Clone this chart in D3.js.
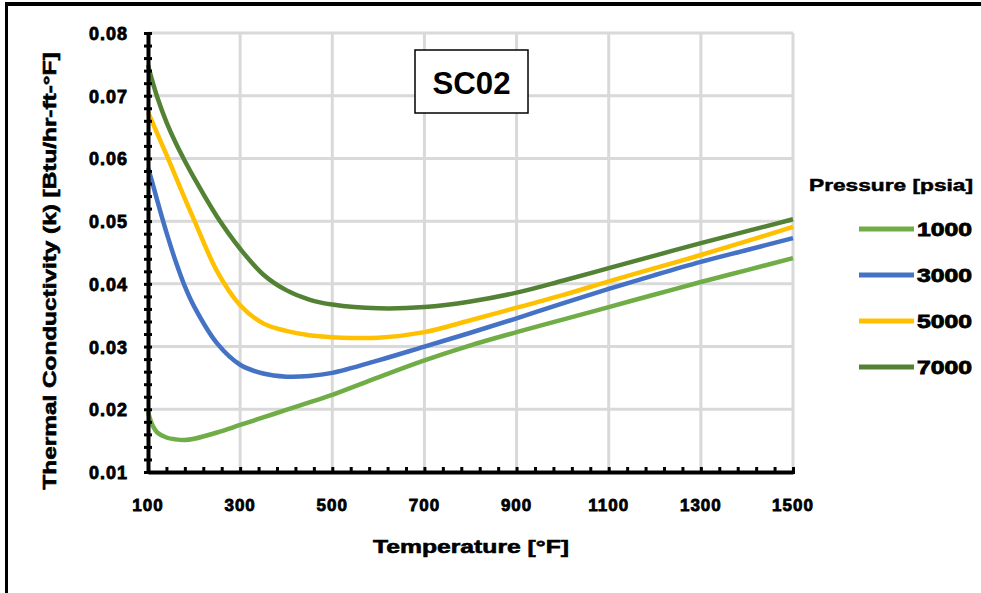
<!DOCTYPE html>
<html>
<head>
<meta charset="utf-8">
<script src="https://cdn.jsdelivr.net/npm/d3@7"></script>
<style>
    body { margin: 0; background: #fff; }
    text { font-family: "Liberation Sans", Arial, sans-serif; font-weight: bold; fill: #000; }
</style>
</head>
<body>
<div id="chart"></div>
<script>
// temperatures [°F] shared by all series
const temps = [100, 110, 120, 140, 160, 180, 200, 250, 300, 350, 400, 450, 500, 600, 700, 800, 900, 1000, 1100, 1200, 1300, 1400, 1500];

// thermal conductivity per pressure
const k1000 = [0.0196, 0.0174, 0.0163, 0.0155, 0.0152, 0.0151, 0.0153, 0.0163, 0.0175, 0.0187, 0.0199, 0.0211, 0.0223, 0.0251, 0.0278, 0.0302, 0.0323, 0.0343, 0.0363, 0.0383, 0.0403, 0.0422, 0.0441];
const k3000 = [0.0585, 0.0560, 0.0533, 0.0482, 0.0436, 0.0396, 0.0364, 0.0305, 0.0271, 0.0257, 0.0252, 0.0253, 0.0258, 0.0278, 0.0300, 0.0322, 0.0345, 0.0369, 0.0392, 0.0414, 0.0435, 0.0454, 0.0473];
const k5000 = [0.0674, 0.0657, 0.0640, 0.0606, 0.0571, 0.0536, 0.0502, 0.0420, 0.0366, 0.0337, 0.0325, 0.0318, 0.0315, 0.0314, 0.0323, 0.0342, 0.0362, 0.0382, 0.0404, 0.0425, 0.0446, 0.0468, 0.0491];
const k7000 = [0.0749, 0.0722, 0.0698, 0.0658, 0.0625, 0.0596, 0.0569, 0.0507, 0.0456, 0.0415, 0.0390, 0.0375, 0.0367, 0.0361, 0.0363, 0.0372, 0.0386, 0.0405, 0.0425, 0.0445, 0.0465, 0.0484, 0.0503];

const pressures = ["1000", "3000", "5000", "7000"];
const seriesValues = [k1000, k3000, k5000, k7000];
const colors = ["#70AD47", "#4472C4", "#FFC000", "#548235"];

const xTicks = [100, 300, 500, 700, 900, 1100, 1300, 1500];
const yTicks = [0.01, 0.02, 0.03, 0.04, 0.05, 0.06, 0.07, 0.08];

const width = 981, height = 593;
const plot = {left: 148, right: 793, top: 33, bottom: 472};

const svg = d3.select("#chart").append("svg")
    .attr("width", width)
    .attr("height", height);

// figure border (left + top)
svg.append("line").attr("x1", 6.5).attr("x2", 6.5).attr("y1", 3).attr("y2", height)
    .attr("stroke", "#000").attr("stroke-width", 3);
svg.append("line").attr("x1", 5).attr("x2", width).attr("y1", 4).attr("y2", 4)
    .attr("stroke", "#000").attr("stroke-width", 4);

const x = d3.scaleLinear().domain([100, 1500]).range([plot.left, plot.right]);
const y = d3.scaleLinear().domain([0.01, 0.08]).range([plot.bottom, plot.top]);

// gridlines
const grid = svg.append("g").attr("stroke", "#d9d9d9").attr("stroke-width", 3);
grid.selectAll("line.v")
    .data(xTicks.slice(1))
    .enter().append("line")
    .attr("x1", d => x(d)).attr("x2", d => x(d))
    .attr("y1", plot.top).attr("y2", plot.bottom);
grid.selectAll("line.h")
    .data(yTicks.slice(1))
    .enter().append("line")
    .attr("x1", plot.left).attr("x2", plot.right)
    .attr("y1", d => y(d)).attr("y2", d => y(d));

// title box
svg.append("rect")
    .attr("x", 415).attr("y", 50).attr("width", 113).attr("height", 63)
    .attr("fill", "#fff").attr("stroke", "#000").attr("stroke-width", 1.5);
svg.append("text")
    .attr("x", 471.5).attr("y", 94)
    .attr("text-anchor", "middle")
    .style("font-size", "32px")
    .attr("textLength", 78).attr("lengthAdjust", "spacingAndGlyphs")
    .text("SC02");

// curves
const line = d3.line()
    .x((d, i) => x(temps[i]))
    .y(d => y(d))
    .curve(d3.curveCatmullRom.alpha(0.5));

svg.selectAll("path.series")
    .data(seriesValues)
    .enter().append("path")
    .attr("class", "series")
    .attr("fill", "none")
    .attr("stroke", (d, i) => colors[i])
    .attr("stroke-width", 4.5)
    .attr("stroke-linejoin", "round")
    .attr("d", line);

// axes with minor ticks every 40 °F and 0.002
const xAxis = d3.axisBottom(x)
    .tickValues(d3.range(100, 1501, 40))
    .tickSize(0)
    .tickFormat("");
const yAxis = d3.axisLeft(y)
    .tickValues(d3.range(0.01, 0.0801, 0.002))
    .tickSize(0)
    .tickFormat("");

const gx = svg.append("g").attr("transform", `translate(0,${plot.bottom})`).call(xAxis);
gx.select(".domain").attr("stroke", "#000").attr("stroke-width", 4);
gx.selectAll(".tick line").attr("y1", -5).attr("y2", 2).attr("stroke", "#000").attr("stroke-width", 3);

const gy = svg.append("g").attr("transform", `translate(${plot.left},0)`).call(yAxis);
gy.select(".domain").attr("stroke", "#000").attr("stroke-width", 4);
gy.selectAll(".tick line").attr("x1", -4).attr("x2", 4).attr("stroke", "#000").attr("stroke-width", 3);

// tick labels
svg.selectAll("text.xl")
    .data(xTicks)
    .enter().append("text")
    .attr("class", "xl")
    .attr("x", d => x(d))
    .attr("y", 511)
    .attr("text-anchor", "middle")
    .style("font-size", "17px")
    .style("letter-spacing", "1px")
    .attr("stroke", "#000").attr("stroke-width", 0.8)
    .text(d => d);

svg.selectAll("text.yl")
    .data(yTicks)
    .enter().append("text")
    .attr("class", "yl")
    .attr("x", 128)
    .attr("y", d => y(d) + 7)
    .attr("text-anchor", "end")
    .style("font-size", "18px")
    .style("letter-spacing", "1px")
    .attr("stroke", "#000").attr("stroke-width", 0.8)
    .text(d => d.toFixed(2));

// axis titles
svg.append("text")
    .attr("x", 471).attr("y", 553)
    .attr("text-anchor", "middle")
    .style("font-size", "19px")
    .attr("textLength", 196).attr("lengthAdjust", "spacingAndGlyphs")
    .attr("stroke", "#000").attr("stroke-width", 0.6)
    .text("Temperature [°F]");

svg.append("text")
    .attr("transform", "translate(56,271) rotate(-90)")
    .attr("text-anchor", "middle")
    .style("font-size", "18px")
    .attr("textLength", 437).attr("lengthAdjust", "spacingAndGlyphs")
    .attr("stroke", "#000").attr("stroke-width", 0.6)
    .text("Thermal Conductivity (k) [Btu/hr-ft-°F]");

// legend
svg.append("text")
    .attr("x", 891).attr("y", 191)
    .attr("text-anchor", "middle")
    .style("font-size", "17px")
    .attr("textLength", 164).attr("lengthAdjust", "spacingAndGlyphs")
    .attr("stroke", "#000").attr("stroke-width", 0.5)
    .text("Pressure [psia]");

const legendY = [229, 275, 321, 367];
const legend = svg.selectAll("g.legend")
    .data(pressures)
    .enter().append("g")
    .attr("class", "legend")
    .attr("transform", (d, i) => `translate(0,${legendY[i]})`);

legend.append("line")
    .attr("x1", 859).attr("x2", 914)
    .attr("stroke", (d, i) => colors[i])
    .attr("stroke-width", 5);

legend.append("text")
    .attr("x", 917).attr("y", 7)
    .style("font-size", "18px")
    .attr("textLength", 55).attr("lengthAdjust", "spacingAndGlyphs")
    .attr("stroke", "#000").attr("stroke-width", 0.8)
    .text(d => d);
</script>
</body>
</html>
